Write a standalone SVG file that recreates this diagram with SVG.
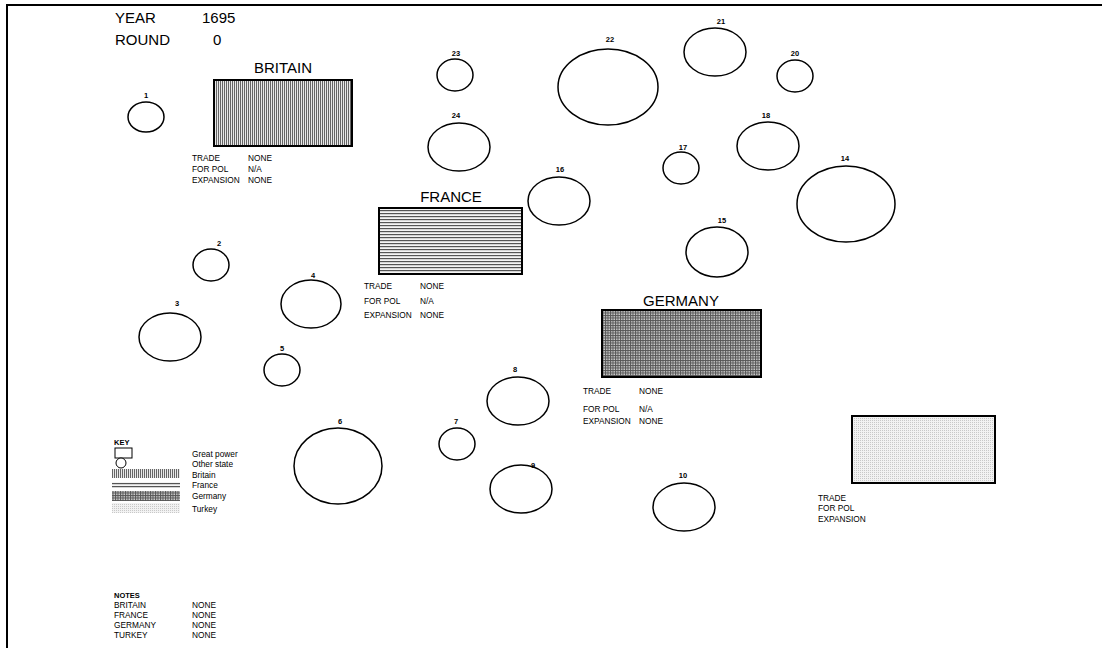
<svg xmlns="http://www.w3.org/2000/svg" width="1102" height="648" viewBox="0 0 1102 648">
<style>
text{font-family:"Liberation Sans",Arial,sans-serif;fill:#000}
.big{font-size:15px}
.sm{font-size:8.3px}
.num{font-size:7.5px;font-weight:bold;text-anchor:middle}
.st{fill:none;stroke:#000;stroke-width:1.5}
.gp{stroke:#000;stroke-width:2}
</style>
<defs>
<pattern id="pBr" width="2" height="2" patternUnits="userSpaceOnUse"><rect width="2" height="2" fill="#e8e8e8"/><rect width="1" height="2" fill="#666"/></pattern>
<pattern id="pFr" width="3" height="3" patternUnits="userSpaceOnUse"><rect width="3" height="3" fill="#f4f4f4"/><rect width="3" height="1.2" fill="#555"/></pattern>
<pattern id="pGe" width="2.5" height="2.5" patternUnits="userSpaceOnUse"><rect width="2.5" height="2.5" fill="#d0d0d0"/><rect width="2.5" height="1" fill="#555"/><rect width="1" height="2.5" fill="#555"/></pattern>
<pattern id="pTu" width="2" height="2" patternUnits="userSpaceOnUse"><rect width="2" height="2" fill="#f2f2f2"/><rect width="1" height="1" fill="#c8c8c8"/></pattern>
</defs>
<g id="frame">
<line x1="7" y1="5" x2="1102" y2="5" stroke="#000" stroke-width="2"/>
<line x1="7" y1="4" x2="7" y2="648" stroke="#000" stroke-width="2"/>
</g>
<g id="header">
<text class="big" x="115" y="23">YEAR</text>
<text class="big" x="202" y="23">1695</text>
<text class="big" x="115" y="45">ROUND</text>
<text class="big" x="213" y="45">0</text>
</g>
<g id="britain">
<text class="big" x="283" y="73" text-anchor="middle">BRITAIN</text>
<rect class="gp" x="214" y="80" width="138" height="66" fill="url(#pBr)"/>
<text class="sm" x="192" y="161">TRADE</text><text class="sm" x="248" y="161">NONE</text>
<text class="sm" x="192" y="172">FOR POL</text><text class="sm" x="248" y="172">N/A</text>
<text class="sm" x="192" y="183">EXPANSION</text><text class="sm" x="248" y="183">NONE</text>
</g>
<g id="france">
<text class="big" x="451" y="202" text-anchor="middle">FRANCE</text>
<rect class="gp" x="379" y="208" width="143" height="66" fill="url(#pFr)"/>
<text class="sm" x="364" y="289">TRADE</text><text class="sm" x="420" y="289">NONE</text>
<text class="sm" x="364" y="304">FOR POL</text><text class="sm" x="420" y="304">N/A</text>
<text class="sm" x="364" y="318">EXPANSION</text><text class="sm" x="420" y="318">NONE</text>
</g>
<g id="germany">
<text class="big" x="681" y="306" text-anchor="middle">GERMANY</text>
<rect class="gp" x="602" y="310" width="159" height="67" fill="url(#pGe)"/>
<text class="sm" x="583" y="394">TRADE</text><text class="sm" x="639" y="394">NONE</text>
<text class="sm" x="583" y="412">FOR POL</text><text class="sm" x="639" y="412">N/A</text>
<text class="sm" x="583" y="424">EXPANSION</text><text class="sm" x="639" y="424">NONE</text>
</g>
<g id="turkey">
<rect class="gp" x="852" y="416" width="143" height="67" fill="url(#pTu)"/>
<text class="sm" x="818" y="501">TRADE</text>
<text class="sm" x="818" y="511">FOR POL</text>
<text class="sm" x="818" y="522">EXPANSION</text>
</g>
<g id="n1"><ellipse class="st" cx="146" cy="117" rx="18" ry="15"/><text class="num" x="146" y="98">1</text></g>
<g id="n2"><ellipse class="st" cx="211" cy="265" rx="18" ry="16"/><text class="num" x="219" y="246">2</text></g>
<g id="n3"><ellipse class="st" cx="170" cy="337" rx="31" ry="24"/><text class="num" x="177" y="306">3</text></g>
<g id="n4"><ellipse class="st" cx="311" cy="304" rx="30" ry="24"/><text class="num" x="313" y="278">4</text></g>
<g id="n5"><ellipse class="st" cx="282" cy="370" rx="18" ry="16"/><text class="num" x="282" y="351">5</text></g>
<g id="n6"><ellipse class="st" cx="338" cy="466" rx="44" ry="38"/><text class="num" x="340" y="424">6</text></g>
<g id="n7"><ellipse class="st" cx="457" cy="444" rx="18" ry="16"/><text class="num" x="456" y="424">7</text></g>
<g id="n8"><ellipse class="st" cx="518" cy="401" rx="31" ry="24"/><text class="num" x="515" y="372">8</text></g>
<g id="n9"><ellipse class="st" cx="521" cy="489" rx="31" ry="24"/><text class="num" x="533" y="468">9</text></g>
<g id="n10"><ellipse class="st" cx="684" cy="507" rx="31" ry="24"/><text class="num" x="683" y="478">10</text></g>
<g id="n14"><ellipse class="st" cx="846" cy="204" rx="49" ry="38"/><text class="num" x="845" y="161">14</text></g>
<g id="n15"><ellipse class="st" cx="717" cy="252" rx="31" ry="25"/><text class="num" x="722" y="223">15</text></g>
<g id="n16"><ellipse class="st" cx="559" cy="201" rx="31" ry="24"/><text class="num" x="560" y="172">16</text></g>
<g id="n17"><ellipse class="st" cx="681" cy="168" rx="18" ry="16"/><text class="num" x="683" y="150">17</text></g>
<g id="n18"><ellipse class="st" cx="768" cy="146" rx="31" ry="24"/><text class="num" x="766" y="118">18</text></g>
<g id="n20"><ellipse class="st" cx="795" cy="76" rx="18" ry="16"/><text class="num" x="795" y="56">20</text></g>
<g id="n21"><ellipse class="st" cx="715" cy="52" rx="31" ry="24"/><text class="num" x="721" y="24">21</text></g>
<g id="n22"><ellipse class="st" cx="608" cy="87" rx="50" ry="38"/><text class="num" x="610" y="42">22</text></g>
<g id="n23"><ellipse class="st" cx="455" cy="75" rx="18" ry="16"/><text class="num" x="456" y="56">23</text></g>
<g id="n24"><ellipse class="st" cx="459" cy="147" rx="31" ry="24"/><text class="num" x="456" y="118">24</text></g>
<g id="key">
<text x="114" y="445" style="font-size:7.5px;font-weight:bold">KEY</text>
<rect x="115" y="448" width="17" height="10" fill="#fff" stroke="#000" stroke-width="1"/>
<circle cx="121" cy="463" r="5" fill="#fff" stroke="#000" stroke-width="1"/>
<rect x="112" y="469" width="68" height="9" fill="url(#pBr)"/>
<rect x="112" y="482" width="68" height="6" fill="url(#pFr)"/>
<rect x="112" y="491" width="68" height="10" fill="url(#pGe)"/>
<rect x="112" y="503" width="68" height="10" fill="url(#pTu)"/>
<text class="sm" x="192" y="457">Great power</text>
<text class="sm" x="192" y="467">Other state</text>
<text class="sm" x="192" y="478">Britain</text>
<text class="sm" x="192" y="488">France</text>
<text class="sm" x="192" y="499">Germany</text>
<text class="sm" x="192" y="512">Turkey</text>
</g>
<g id="notes">
<text x="114" y="598" style="font-size:7.5px;font-weight:bold">NOTES</text>
<text class="sm" x="114" y="608">BRITAIN</text><text class="sm" x="192" y="608">NONE</text>
<text class="sm" x="114" y="618">FRANCE</text><text class="sm" x="192" y="618">NONE</text>
<text class="sm" x="114" y="628">GERMANY</text><text class="sm" x="192" y="628">NONE</text>
<text class="sm" x="114" y="638">TURKEY</text><text class="sm" x="192" y="638">NONE</text>
</g>
</svg>
